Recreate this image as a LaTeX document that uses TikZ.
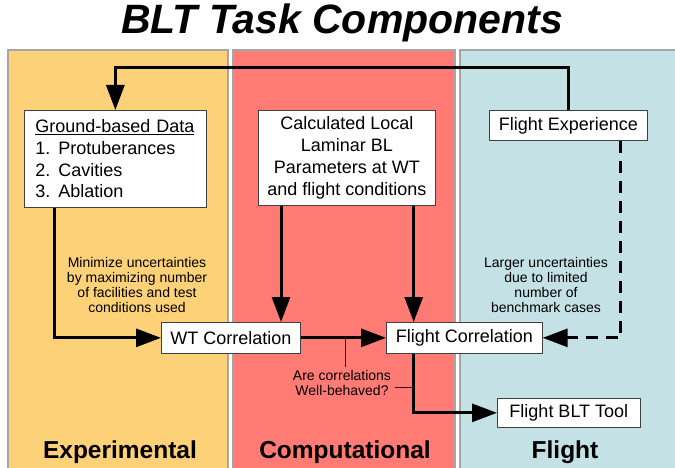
\documentclass[tikz,border=0pt]{standalone}
\usepackage{fontspec}
\setmainfont{Liberation Sans}
\usetikzlibrary{arrows.meta,positioning,calc}

\tikzset{
  panel/.style={draw=gray!70, line width=1.2pt},
  box/.style={draw=gray!50!black, fill=white, line width=0.7pt, inner sep=0pt, anchor=north west,
    font=\fontsize{18}{21.7}\selectfont},
  conn/.style={line width=3pt, -{Triangle[length=25pt,width=18pt]}},
  note/.style={font=\fontsize{14}{15}\selectfont, align=center},
  lead/.style={draw=black!75!red, line width=0.8pt},
  header/.style={font=\fontsize{24.5}{26}\selectfont\bfseries},
}

\begin{document}
\begin{tikzpicture}[x=1pt, y=-1pt]
    \useasboundingbox (0,0) rectangle (675,468);
    % panels
    \fill[white] (0,0) rectangle (675,468);
    \filldraw[panel, fill={rgb,255:red,252;green,209;blue,120}] (8,50) rectangle (228,472);
    \filldraw[panel, fill={rgb,255:red,255;green,123;blue,116}] (233,50) rectangle (455,472);
    \filldraw[panel, fill={rgb,255:red,196;green,226;blue,230}] (460,50) rectangle (680,472);
    \node (title) at (342,23) {\fontsize{41}{41}\selectfont\bfseries\itshape BLT Task Components};

    % boxes
    \node[box, minimum width=182pt, minimum height=97pt, align=left, text width=160pt] (gbd) at (24,110)
      {\underline{Ground-based Data}\\
       \makebox[23pt][l]{1.}Protuberances\\
       \makebox[23pt][l]{2.}Cavities\\
       \makebox[23pt][l]{3.}Ablation};
    \node[box, minimum width=177pt, minimum height=95pt, align=center] (calc) at (258,110)
      {Calculated Local\\Laminar BL\\Parameters at WT\\and flight conditions};
    \node[box, minimum width=158pt, minimum height=30pt] (fexp) at (489,110) {Flight Experience};
    \node[box, minimum width=139pt, minimum height=31pt] (wtcorr) at (161,322) {WT Correlation};
    \node[box, minimum width=156pt, minimum height=31pt] (fcorr) at (386,322) {Flight Correlation};
    \node[box, minimum width=143pt, minimum height=29pt] (blttool) at (497,398) {Flight BLT Tool};

    % connectors
    \draw[conn] (fexp.north) -- ++(0,-42) -| (gbd.north);
    \draw[conn] ([xshift=30pt]gbd.south west) coordinate (g1) |- (wtcorr.west);
    \draw[conn] ([xshift=23pt]calc.south west) coordinate (c1) -- (c1 |- wtcorr.north);
    \draw[conn] ([xshift=-22pt]calc.south east) coordinate (c2) -- (c2 |- fcorr.north);
    \draw[conn] (wtcorr.east) -- (fcorr.west);
    \draw[conn, dash pattern=on 12pt off 8pt] ([xshift=-27pt]fexp.south east) |- (fcorr.east);
    \draw[conn] ([xshift=27pt]fcorr.south west) coordinate (f1) |- (blttool.west);

    % notes
    \node[note] (minnote) at (137,285) {Minimize uncertainties\\by maximizing number\\of facilities and test\\conditions used};
    \node[note] (largenote) at (546,285) {Larger uncertainties\\due to limited\\number of\\benchmark cases};
    \node[note] (wellnote) at (342,383) {Are correlations\\Well-behaved?};
    \coordinate (q1) at (345,337);
    \draw[lead] (q1) -- (q1 |- wellnote.north);
    \draw[lead] ([yshift=-4pt]wellnote.east) -- ([yshift=-4pt]wellnote.east -| f1);

    % panel headers
    \node[header] (exphead) at (120,452) {Experimental};
    \node[header] (comphead) at (345,452) {Computational};
    \node[header] (flthead) at (565,452) {Flight};
\end{tikzpicture}
\end{document}
